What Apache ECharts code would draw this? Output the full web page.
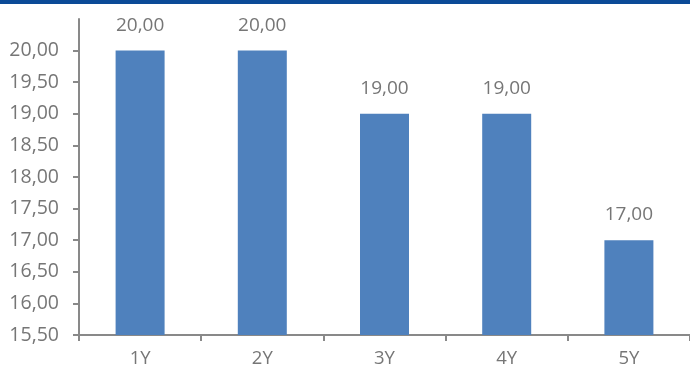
<!DOCTYPE html>
<html><head><meta charset="utf-8">
<script src="https://cdn.jsdelivr.net/npm/echarts@6/dist/echarts.min.js"></script>
<style>html,body{margin:0;padding:0;background:#fff}#c{width:690px;height:374px}</style>
</head><body><div id="c"></div>
<script>
const categories = ['1Y','2Y','3Y','4Y','5Y'];
const values = [20, 20, 19, 19, 17];
const yTicks = [15.5,16,16.5,17,17.5,18,18.5,19,19.5,20];
const yMin = 15.5, yMax = 20.5;

const fmt = v => v.toFixed(2).replace('.', ',');
const font = '"Open Sans", "Liberation Sans", sans-serif';
const chart = echarts.init(document.getElementById('c'), null, {renderer:'canvas'});
chart.setOption({
  animation: false,
  graphic: [{type:'rect', left:0, top:0, shape:{width:690, height:4}, style:{fill:'#0b4a97'}}],
  grid: {left:79, right:-6, top:19, bottom:39, containLabel:false},
  xAxis: {
    type:'category', data:categories,
    axisLine:{lineStyle:{color:'#898989', width:2}},
    axisTick:{show:true, alignWithLabel:false, length:6, lineStyle:{color:'#898989', width:2}},
    axisLabel:{color:'#767676', fontSize:18.5, fontFamily:font, margin:14}
  },
  yAxis: {
    type:'value', min:yMin, max:yMax, interval:0.5,
    axisLine:{show:true, lineStyle:{color:'#898989', width:2}},
    axisTick:{show:true, length:6, customValues:yTicks, lineStyle:{color:'#898989', width:2}},
    axisLabel:{color:'#767676', fontSize:19.5, fontFamily:font, margin:20, customValues:yTicks, formatter: v => fmt(v)},
    splitLine:{show:false}
  },
  series: [{
    type:'bar', data:values, barWidth:49,
    itemStyle:{color:'#4f81bd'},
    label:{show:true, position:'top', distance:16, color:'#767676', fontSize:19, fontFamily:font, formatter: p => fmt(p.value)}
  }]
});
</script></body></html>
